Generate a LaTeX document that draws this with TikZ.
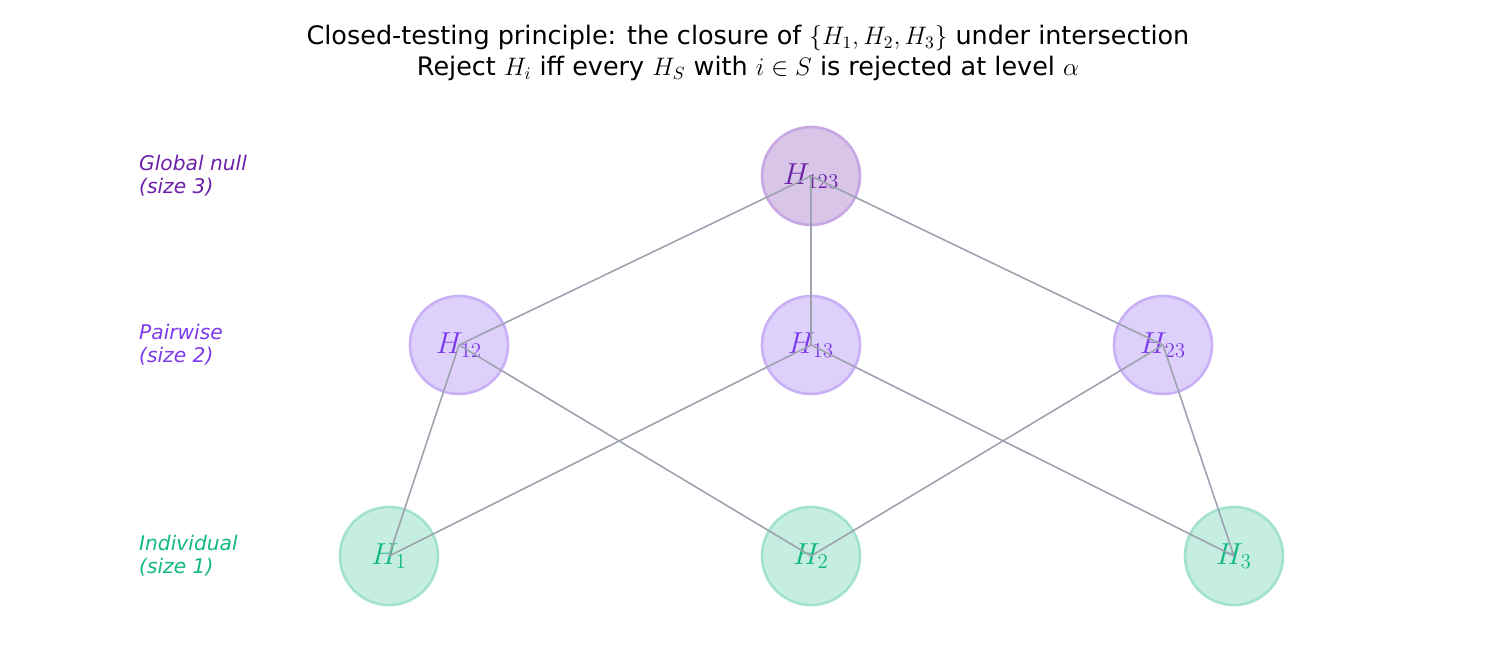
\documentclass[tikz,border=0pt]{standalone}
\usepackage{fontspec}
\setmainfont{DejaVu Sans}
\definecolor{topfill}{HTML}{D8C5E8}
\definecolor{topdraw}{HTML}{C8A8E4}
\definecolor{toptext}{HTML}{6B21A8}
\definecolor{midfill}{HTML}{DDD0FB}
\definecolor{middraw}{HTML}{C9B0F7}
\definecolor{midtext}{HTML}{7C3AED}
\definecolor{lowfill}{HTML}{C5EDE0}
\definecolor{lowdraw}{HTML}{A3E2CC}
\definecolor{lowtext}{HTML}{10B981}
\definecolor{edgegray}{HTML}{9CA3AF}
\tikzset{
  hyp/.style={circle, minimum size=1.96cm, inner sep=0pt, line width=1.5pt, font=\fontsize{17}{20}\selectfont},
  toplevel/.style={hyp, fill=topfill, draw=topdraw, text=toptext},
  midlevel/.style={hyp, fill=midfill, draw=middraw, text=midtext},
  lowlevel/.style={hyp, fill=lowfill, draw=lowdraw, text=lowtext},
  link/.style={edgegray, line width=0.9pt},
  side/.style={anchor=west, align=left, font=\fontsize{11.5}{13}\selectfont\itshape}
}
\begin{document}
\begin{tikzpicture}[x=0.02cm, y=-0.02cm]
    \useasboundingbox (0,0) rectangle (1495,663);

    % Title
    \node[font=\fontsize{14.5}{18}\selectfont, align=center] (title) at (748,53)
        {Closed-testing principle: the closure of $\{H_1,H_2,H_3\}$ under intersection\\
         Reject $H_i$ iff every $H_S$ with $i\in S$ is rejected at level $\alpha$};

    % Hypotheses
    \node[toplevel] (h123) at (811,176) {$H_{123}$};
    \node[midlevel] (h12) at (459,345) {$H_{12}$};
    \node[midlevel] (h13) at (811,345) {$H_{13}$};
    \node[midlevel] (h23) at (1163,345) {$H_{23}$};
    \node[lowlevel] (h1) at (389,556) {$H_{1}$};
    \node[lowlevel] (h2) at (811,556) {$H_{2}$};
    \node[lowlevel] (h3) at (1234,556) {$H_{3}$};

    % Edges
    \foreach \a/\b in {h123/h12, h123/h13, h123/h23, h12/h1, h12/h2, h13/h1, h13/h3, h23/h2, h23/h3}
        \draw[link] (\a.center) -- (\b.center);

    % Level labels
    \node[side, text=toptext] (lbltop) at (133,176) {Global null\\(size 3)};
    \node[side, text=midtext] (lblmid) at (133,345) {Pairwise\\(size 2)};
    \node[side, text=lowtext] (lbllow) at (133,556) {Individual\\(size 1)};

\end{tikzpicture}
\end{document}
